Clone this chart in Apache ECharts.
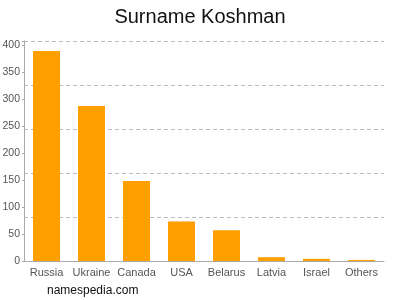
<!DOCTYPE html>
<html><head><meta charset="utf-8">
<script src="https://cdn.jsdelivr.net/npm/echarts@6/dist/echarts.min.js"></script>
<style>html,body{margin:0;padding:0;background:#fff}#c{width:400px;height:300px}</style>
</head><body><div id="c"></div>
<script>
const categories = ["Russia","Ukraine","Canada","USA","Belarus","Latvia","Israel","Others"];
const counts = [389, 287, 148, 73, 57, 7, 4, 2];
const yTicks = [0,50,100,150,200,250,300,350,400];
const titleText = "Surname Koshman";
const footerText = "namespedia.com";

const chart = echarts.init(document.getElementById('c'), null, {renderer:'canvas'});
chart.setOption({
  animation:false,
  backgroundColor:'#fff',
  title:{text:titleText,left:'center',top:2,textStyle:{fontFamily:'Liberation Sans, Arial',fontSize:20,fontWeight:'normal',color:'#111'}},
  graphic:[{type:'text',left:47,top:285,style:{text:footerText,fontFamily:'Liberation Sans, Arial',fontSize:12,fill:'#111'}}],
  grid:{left:24,right:16,top:41,bottom:39,containLabel:false,outerBoundsMode:'none'},
  xAxis:{type:'category',data:categories,
    axisLine:{lineStyle:{color:'#aaa'}},
    axisTick:{alignWithLabel:true,length:3,lineStyle:{color:'#aaa'}},
    axisLabel:{interval:0,color:'#555',fontSize:11,fontFamily:'Liberation Sans, Arial',margin:6}},
  yAxis:[{type:'value',min:0,max:407.4,interval:50,
    axisLine:{show:true,lineStyle:{color:'#aaa'}},
    axisTick:{show:true,length:2,lineStyle:{color:'#aaa'}},
    splitLine:{show:false},
    axisLabel:{color:'#555',fontSize:10.5,fontFamily:'Liberation Sans, Arial',margin:4,
      formatter:function(v){return yTicks.indexOf(v)>=0?String(v):'';}}},
    {type:'value',min:0,max:5,interval:1,position:'left',show:true,
    axisLine:{show:false},axisTick:{show:false},axisLabel:{show:false},
    splitLine:{show:true,lineStyle:{color:'#bbb',type:[4,3]}}}],
  series:[{type:'bar',data:counts,yAxisIndex:0,barWidth:27,itemStyle:{color:'#ffa000'}}]
});
</script></body></html>
